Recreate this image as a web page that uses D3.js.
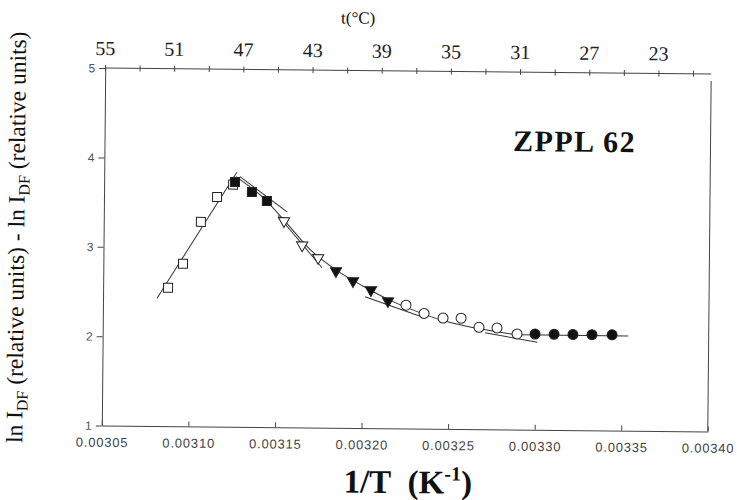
<!DOCTYPE html>
<html>
<head>
<meta charset="utf-8">
<script src="https://cdn.jsdelivr.net/npm/d3@7"></script>
<style>
  body { margin: 0; background: #fff; }
  svg { display: block; }
</style>
</head>
<body>
<div id="chart"></div>
<script>
// data
const openSquares = [[0.0030875, 2.55], [0.003096, 2.82], [0.0031061, 3.29], [0.0031153, 3.57], [0.0031245, 3.71]];
const filledSquares = [[0.0031256, 3.74], [0.0031354, 3.63], [0.0031441, 3.53]];
const openTriangles = [[0.0031541, 3.31], [0.0031647, 3.04], [0.003174, 2.90]];
const filledTriangles = [[0.0031844, 2.755], [0.0031943, 2.645], [0.0032047, 2.546], [0.0032146, 2.424]];
const openCircles = [[0.003225, 2.38], [0.0032355, 2.29], [0.0032465, 2.24], [0.0032569, 2.24], [0.0032673, 2.14], [0.0032777, 2.135], [0.0032893, 2.07]];
const filledCircles = [[0.0032997, 2.07], [0.0033107, 2.07], [0.0033216, 2.07], [0.0033326, 2.07], [0.0033442, 2.07]];

// fitted straight segments
const fitLines = [
  [[0.0030812, 2.43], [0.0031266, 3.85]],
  [[0.0031284, 3.80], [0.0031558, 3.41]],
  [[0.0031506, 3.37], [0.0031763, 2.79]],
  [[0.0032013, 2.47], [0.0032345, 2.25]],
  [[0.0032708, 2.08], [0.0033011, 1.98]],
  [[0.003291, 2.06], [0.0033535, 2.06]]
];
// smooth curve through the falling branch
const curvePts = [[0.003126, 3.80], [0.003140, 3.60], [0.003155, 3.30], [0.003170, 2.98], [0.003185, 2.76],
  [0.003200, 2.59], [0.003215, 2.44], [0.003230, 2.32], [0.003245, 2.22], [0.003260, 2.15],
  [0.003275, 2.10], [0.003290, 2.06]];

const xTicks = [0.00305, 0.00310, 0.00315, 0.00320, 0.00325, 0.00330, 0.00335, 0.00340];
const yTicks = [1, 2, 3, 4, 5];
const tTicks = [55, 53, 51, 49, 47, 45, 43, 41, 39, 37, 35, 33, 31, 29, 27, 25, 23, 21];
const tLabels = [55, 51, 47, 43, 39, 35, 31, 27, 23];

const width = 737, height = 500;
const margin = { left: 103.5, right: 27.5, top: 71, bottom: 71.5 };

const svg = d3.select('#chart').append('svg')
  .attr('width', width)
  .attr('height', height);

// the scan is slightly tilted
const g = svg.append('g').attr('transform', 'rotate(0.55 405 250)');

const x = d3.scaleLinear().domain([0.00305, 0.00340]).range([margin.left, width - margin.right]);
const y = d3.scaleLinear().domain([1, 5]).range([height - margin.bottom, margin.top]);
const t = d3.scaleLinear().domain([55, 21]).range([103.3, 691.3]);

const axisColor = '#444';

// bottom axis
const xAxis = g.append('g')
  .attr('transform', 'translate(0,' + y(1) + ')')
  .call(d3.axisBottom(x).tickValues(xTicks).tickSizeInner(-5).tickSizeOuter(0).tickFormat(d3.format('.5f')));
xAxis.select('.domain').attr('stroke', axisColor);
xAxis.selectAll('.tick line').attr('stroke', axisColor);
xAxis.selectAll('text')
  .attr('y', 12)
  .style('font-family', 'Liberation Sans, Arial, sans-serif')
  .style('font-size', '13px')
  .style('letter-spacing', '0.8px')
  .attr('fill', '#444');

// left axis
const yAxis = g.append('g')
  .attr('transform', 'translate(' + x(0.00305) + ',0)')
  .call(d3.axisLeft(y).tickValues(yTicks).tickSizeInner(6).tickSizeOuter(0).tickFormat(d3.format('d')));
yAxis.select('.domain').attr('stroke', axisColor);
yAxis.selectAll('.tick line').attr('stroke', axisColor);
yAxis.selectAll('text')
  .attr('x', -10)
  .style('font-family', 'Liberation Sans, Arial, sans-serif')
  .style('font-size', '12px')
  .attr('fill', '#555');

// right edge
g.append('line')
  .attr('x1', x(0.00340)).attr('x2', x(0.00340))
  .attr('y1', y(4.92)).attr('y2', y(1))
  .attr('stroke', axisColor);

// top temperature axis
const tAxis = g.append('g')
  .attr('transform', 'translate(0,' + y(5) + ')')
  .call(d3.axisTop(t).tickValues(tTicks).tickSizeInner(4).tickSizeOuter(0).tickFormat(''));
tAxis.select('.domain').attr('d', 'M' + t(55) + ',0H' + x(0.00340)).attr('stroke', axisColor);
tAxis.selectAll('.tick line').attr('y1', 3).attr('y2', -3).attr('stroke', axisColor);

g.append('g').selectAll('text')
  .data(tLabels)
  .enter().append('text')
  .attr('x', d => t(d))
  .attr('y', y(5) - 13)
  .attr('text-anchor', 'middle')
  .style('font-family', 'Liberation Serif, Times New Roman, serif')
  .style('font-size', '20px')
  .attr('fill', '#222')
  .text(d => d);

g.append('text')
  .attr('x', 356)
  .attr('y', 24)
  .attr('text-anchor', 'middle')
  .style('font-family', 'Liberation Serif, Times New Roman, serif')
  .style('font-size', '17px')
  .attr('fill', '#111')
  .text('t(°C)');

// fitted lines and curve
const line = d3.line().x(d => x(d[0])).y(d => y(d[1]));
g.append('g').selectAll('path')
  .data(fitLines)
  .enter().append('path')
  .attr('d', line)
  .attr('fill', 'none')
  .attr('stroke', '#333')
  .attr('stroke-width', 1);

g.append('path')
  .attr('d', line.curve(d3.curveCatmullRom)(curvePts))
  .attr('fill', 'none')
  .attr('stroke', '#333')
  .attr('stroke-width', 1);

// markers
function squares(data, fill) {
  g.append('g').selectAll('rect')
    .data(data)
    .enter().append('rect')
    .attr('x', d => x(d[0]) - 4.5)
    .attr('y', d => y(d[1]) - 4.5)
    .attr('width', 9).attr('height', 9)
    .attr('fill', fill)
    .attr('stroke', '#222');
}
function triangles(data, fill) {
  const sym = d3.symbol().type(d3.symbolTriangle).size(55);
  g.append('g').selectAll('path')
    .data(data)
    .enter().append('path')
    .attr('d', sym)
    .attr('transform', d => 'translate(' + x(d[0]) + ',' + y(d[1]) + ') rotate(180)')
    .attr('fill', fill)
    .attr('stroke', '#222');
}
function circles(data, fill) {
  g.append('g').selectAll('circle')
    .data(data)
    .enter().append('circle')
    .attr('cx', d => x(d[0]))
    .attr('cy', d => y(d[1]))
    .attr('r', 5)
    .attr('fill', fill)
    .attr('stroke', '#222');
}
squares(openSquares, '#fff');
squares(filledSquares, '#111');
triangles(openTriangles, '#fff');
triangles(filledTriangles, '#111');
circles(openCircles, '#fff');
circles(filledCircles, '#111');

// labels
g.append('text')
  .attr('x', 512)
  .attr('y', 150)
  .style('font-family', 'Liberation Serif, Times New Roman, serif')
  .style('font-size', '30px')
  .style('font-weight', 'bold')
  .style('letter-spacing', '1.5px')
  .attr('fill', '#111')
  .text('ZPPL 62');

const xt = g.append('text')
  .attr('x', 410)
  .attr('y', 493)
  .attr('text-anchor', 'middle')
  .style('font-family', 'Liberation Serif, Times New Roman, serif')
  .style('font-size', '33px')
  .style('font-weight', 'bold')
  .attr('fill', '#111');
xt.append('tspan').text('1/T\u00a0\u00a0(K');
xt.append('tspan').attr('dy', -13).style('font-size', '20px').text('-1');
xt.append('tspan').attr('dy', 13).text(')');

const yt = g.append('text')
  .attr('transform', 'translate(24,241) rotate(-90)')
  .attr('text-anchor', 'middle')
  .style('font-family', 'Liberation Serif, Times New Roman, serif')
  .style('font-size', '23.5px')
  .attr('fill', '#111');
yt.append('tspan').text('ln I');
yt.append('tspan').attr('dy', 5).style('font-size', '16px').text('DF');
yt.append('tspan').attr('dy', -5).text(' (relative units) - ln I');
yt.append('tspan').attr('dy', 5).style('font-size', '16px').text('DF');
yt.append('tspan').attr('dy', -5).text(' (relative units)');
</script>
</body>
</html>
